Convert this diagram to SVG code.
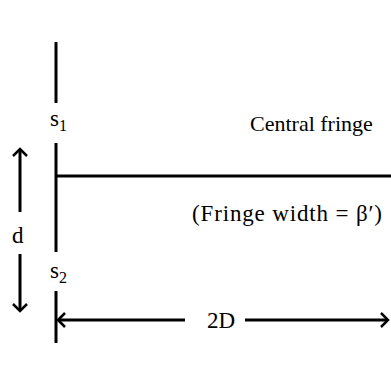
<svg xmlns="http://www.w3.org/2000/svg" width="391" height="370" viewBox="0 0 391 370">
<style>
.ln{stroke:#000;stroke-width:3;fill:none}
.ah{stroke:#000;stroke-width:2.5;fill:none}
text{font-family:"Liberation Serif","Times New Roman",serif;font-size:23px;fill:#000}
.sub{font-size:16px}
</style>
<rect width="391" height="370" fill="#fff"/>
<g id="connectors">
<line class="ln" x1="56" y1="42" x2="56" y2="103"/>
<line class="ln" x1="56" y1="143" x2="56" y2="252"/>
<line class="ln" x1="56" y1="291" x2="56" y2="343"/>
<line class="ln" x1="56" y1="176" x2="391" y2="176"/>
<line class="ln" x1="20" y1="149" x2="20" y2="212"/>
<polyline class="ah" points="13,156 20,149 27,156"/>
<line class="ln" x1="20" y1="254" x2="20" y2="311"/>
<polyline class="ah" points="13,304 20,311 27,304"/>
<line class="ln" x1="58" y1="320" x2="185" y2="320"/>
<polyline class="ah" points="65,313 58,320 65,327"/>
<line class="ln" x1="245" y1="320" x2="388" y2="320"/>
<polyline class="ah" points="381,313 388,320 381,327"/>
</g>
<g id="s1"><text x="50" y="126">s<tspan class="sub" dy="5">1</tspan></text></g>
<g id="s2"><text x="50" y="278">s<tspan class="sub" dy="5">2</tspan></text></g>
<g id="d"><text x="12" y="243">d</text></g>
<g id="central"><text x="250" y="131" style="font-size:22px">Central fringe</text></g>
<g id="width"><text x="192" y="221" textLength="190" lengthAdjust="spacing">(Fringe width = β′)</text></g>
<g id="dist"><text x="207" y="328">2D</text></g>
</svg>
